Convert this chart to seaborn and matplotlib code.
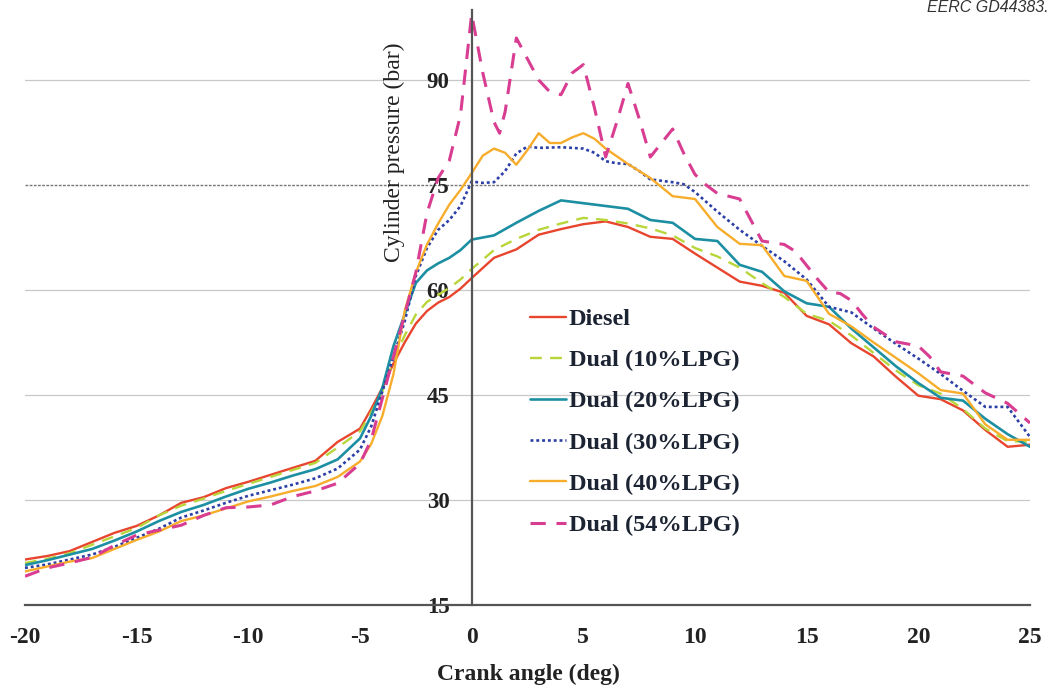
import matplotlib
matplotlib.use("Agg")
import matplotlib.pyplot as plt
import seaborn as sns
import pandas as pd

# ---------------- data ----------------
ANG_A = [-20, -19, -18, -17, -16, -15, -14, -13, -12, -11, -10, -9, -8, -7, -6,
         -5, -4.5, -4, -3.5, -3, -2.5, -2, -1.5, -1, -0.5, 0,
         1, 2, 3, 4, 5, 6, 7, 8, 9, 10, 11, 12, 13, 14, 15, 16, 17, 18, 19, 20,
         21, 22, 23, 24, 25]

diesel = [21.5, 22.0, 22.7, 24.0, 25.3, 26.3, 27.8, 29.6, 30.4, 31.7, 32.6, 33.6, 34.6, 35.6, 38.3,
          40.2, 43.0, 46.0, 49.5, 52.5, 55.2, 57.0, 58.2, 59.0, 60.2, 61.7,
          64.6, 65.8, 67.9, 68.7, 69.4, 69.8, 69.0, 67.6, 67.3, 65.2, 63.2, 61.2, 60.6, 59.6, 56.3,
          55.1, 52.4, 50.5, 47.6, 44.9, 44.4, 42.8, 40.0, 37.6, 37.9]

lpg10 = [21.0, 21.6, 22.4, 23.6, 24.8, 26.0, 27.8, 29.2, 30.2, 31.3, 32.3, 33.3, 34.3, 35.3, 37.5,
         39.8, 42.5, 45.5, 50.0, 53.5, 56.5, 58.3, 59.3, 60.3, 61.5, 63.0,
         65.7, 67.3, 68.6, 69.5, 70.3, 70.0, 69.5, 68.8, 67.8, 66.0, 64.8, 63.2, 61.0, 59.0, 56.6,
         55.6, 53.5, 51.0, 48.5, 46.4, 45.2, 43.0, 40.2, 38.4, 38.3]

lpg20 = [20.7, 21.4, 22.2, 23.0, 24.2, 25.5, 27.0, 28.3, 29.3, 30.5, 31.6, 32.5, 33.5, 34.4, 35.8,
         38.8, 42.0, 46.0, 52.0, 56.5, 61.0, 62.8, 63.8, 64.6, 65.7, 67.2,
         67.8, 69.6, 71.3, 72.8, 72.4, 72.0, 71.6, 70.0, 69.6, 67.3, 67.0, 63.6, 62.6, 59.8, 58.1,
         57.6, 54.5, 51.8, 49.1, 46.7, 44.6, 44.2, 41.6, 39.4, 37.6]

ANG_30 = [-20, -19, -18, -17, -16, -15, -14, -13, -12, -11, -10, -9, -8, -7, -6,
          -5, -4.5, -4, -3.5, -3, -2.5, -2, -1.5, -1, -0.5, 0,
          0.5, 1, 1.5, 2, 2.5, 3, 4, 5, 5.5, 6, 6.5, 7, 7.5, 8, 9, 9.5, 10, 10.5, 11,
          12, 13, 14, 15, 16, 17, 18, 19, 20, 21, 22, 23, 24, 25]
lpg30 = [20.3, 20.8, 21.5, 22.2, 23.3, 24.6, 25.9, 27.5, 28.5, 29.6, 30.6, 31.4, 32.2, 33.1, 34.5,
         37.2, 40.5, 45.5, 50.5, 55.5, 62.0, 66.0, 68.6, 70.0, 72.0, 75.5,
         75.3, 75.4, 77.0, 79.5, 80.5, 80.3, 80.4, 80.2, 79.6, 78.4, 78.1, 78.0, 77.0, 75.8, 75.4, 75.1, 74.0, 72.6, 71.2,
         68.6, 66.3, 64.1, 61.5, 57.6, 56.8, 54.5, 52.3, 50.2, 48.0, 45.6, 43.3, 43.3, 39.0]

ANG_40 = [-20, -19, -18, -17, -16, -15, -14, -13, -12, -11, -10, -9, -8, -7, -6,
          -5, -4.5, -4, -3.5, -3, -2.5, -2, -1.5, -1, -0.5, 0,
          0.5, 1, 1.5, 2, 2.5, 3, 3.5, 4, 4.5, 5, 5.5, 6, 7, 8, 9, 9.5, 10, 11,
          12, 13, 14, 15, 16, 17, 18, 19, 20, 21, 22, 23, 24, 25]
lpg40 = [19.8, 20.5, 21.2, 21.7, 23.0, 24.3, 25.5, 27.0, 27.8, 28.8, 29.8, 30.5, 31.3, 32.0, 33.3,
         35.5, 38.0, 42.0, 48.0, 57.0, 62.5, 66.5, 69.5, 72.2, 74.3, 76.7,
         79.2, 80.2, 79.6, 77.9, 80.0, 82.4, 81.0, 81.0, 81.8, 82.4, 81.6, 80.2, 78.0, 76.0, 73.4, 73.2, 73.0, 69.0,
         66.6, 66.4, 62.0, 61.3, 56.6, 54.8, 52.5, 50.3, 48.1, 45.7, 45.2, 40.8, 38.6, 38.6]

ANG_54 = [-20, -19, -18, -17, -16, -15, -14, -13, -12, -11, -10, -9, -8, -7, -6,
          -5, -4.5, -4, -3.5, -3, -2.5, -2, -1.5, -1, -0.5, 0,
          0.5, 1, 1.25, 1.5, 2, 2.5, 3, 3.5, 4, 4.5, 5, 5.5, 6, 6.5, 7, 7.5, 8, 8.5, 9, 9.5, 10, 10.5, 11,
          12, 12.5, 13, 14, 14.5, 15, 15.5, 16, 16.5, 17, 17.5, 18, 19, 20, 20.5, 21, 22, 23, 24, 25]
lpg54 = [19.1, 20.3, 21.0, 21.8, 23.5, 25.0, 25.7, 26.4, 27.8, 28.9, 29.0, 29.3, 30.5, 31.3, 32.4,
         35.2, 38.6, 44.5, 50.5, 56.5, 62.5, 71.0, 76.0, 78.5, 85.0, 99.4,
         91.0, 84.0, 82.4, 85.5, 96.0, 93.0, 90.0, 88.3, 87.9, 91.0, 92.2, 86.0, 79.0, 84.0, 89.5, 84.5, 79.0, 81.0, 83.0, 79.5, 76.5, 75.0, 73.8,
         73.0, 70.0, 67.0, 66.5, 65.5, 63.5, 61.5, 59.7, 59.5, 58.5, 56.5, 54.7, 52.6, 52.0, 50.5, 48.3, 47.7, 45.3, 43.8, 41.0]

LABELS = ["Diesel", "Dual (10%LPG)", "Dual (20%LPG)", "Dual (30%LPG)", "Dual (40%LPG)", "Dual (54%LPG)"]
X_TICKS = [-20, -15, -10, -5, 0, 5, 10, 15, 20, 25]
Y_TICKS = [15, 30, 45, 60, 75, 90]

# ---------------- plot ----------------
sns.set_theme(style="white")
plt.rcParams["font.family"] = ["Liberation Serif", "DejaVu Serif"]

fig = plt.figure(figsize=(10.48, 6.96), dpi=100)
ax = fig.add_axes([25 / 1048, 1 - 605 / 696, 1005 / 1048, 595 / 696])

series = [
    (ANG_A, diesel, LABELS[0], dict(color="#e8452f", lw=1.7, ls="-")),
    (ANG_A, lpg10, LABELS[1], dict(color="#b8d63a", lw=1.7, dashes=(5, 3.5))),
    (ANG_A, lpg20, LABELS[2], dict(color="#1d8fa3", lw=1.9, ls="-")),
    (ANG_30, lpg30, LABELS[3], dict(color="#2c3fa6", lw=1.9, dashes=(1.1, 1.1))),
    (ANG_40, lpg40, LABELS[4], dict(color="#f7ad2b", lw=1.7, ls="-")),
    (ANG_54, lpg54, LABELS[5], dict(color="#d83d92", lw=2.2, dashes=(5, 3.5))),
]

for xs, ys, lab, st in series:
    df = pd.DataFrame({"angle": xs, "pressure": ys})
    sns.lineplot(data=df, x="angle", y="pressure", ax=ax, label=lab, sort=False,
                 estimator=None, solid_joinstyle="round", dash_joinstyle="round", **st)

ax.set_xlim(-20, 25)
ax.set_ylim(15, 100)
ax.set_xticks(X_TICKS)
ax.set_yticks(Y_TICKS)
ax.set_xticklabels([str(v) for v in X_TICKS])
ax.set_yticklabels([str(v) for v in Y_TICKS])

for yv in [30, 45, 60, 90]:
    ax.axhline(yv, color="#c8c8c8", lw=0.9, zorder=0)
ax.axhline(75, color="#777777", lw=1.0, ls=(0, (2, 1)), zorder=0)

for s in ["top", "right"]:
    ax.spines[s].set_visible(False)
ax.spines["left"].set_position(("data", 0))
ax.spines["left"].set_color("#555555")
ax.spines["bottom"].set_color("#555555")
ax.spines["left"].set_linewidth(1.6)
ax.spines["bottom"].set_linewidth(1.6)

ax.tick_params(axis="both", length=0, colors="#222222")
ax.tick_params(axis="x", pad=16, labelsize=17)
ax.tick_params(axis="y", pad=16, labelsize=16.5)
for t in ax.get_xticklabels() + ax.get_yticklabels():
    t.set_fontweight("bold")

ax.set_xlabel("Crank angle (deg)", fontsize=17, fontweight="bold", color="#222222")
ax.xaxis.set_label_coords(0.5005, -0.099)
ax.set_ylabel("Cylinder pressure (bar)", fontsize=17, color="#222222")
ax.yaxis.set_label_coords(0.378, 0.761)

leg = ax.legend(loc="upper left", bbox_to_anchor=(530 / 1048, 1 - 308 / 696),
                bbox_transform=fig.transFigure, frameon=False, borderpad=0,
                borderaxespad=0, handlelength=1.5, handletextpad=0.1,
                labelspacing=0.79, prop={"family": "Liberation Serif", "weight": "bold", "size": 17.5})
for t in leg.get_texts():
    t.set_color("#1c2433")

fig.text(927 / 1048, 1 - 7 / 696, "EERC GD44383.", fontsize=11.5, style="italic",
         family="Liberation Sans", color="#333333", va="center", ha="left")

fig.savefig("out.png", dpi=100, facecolor="white")
